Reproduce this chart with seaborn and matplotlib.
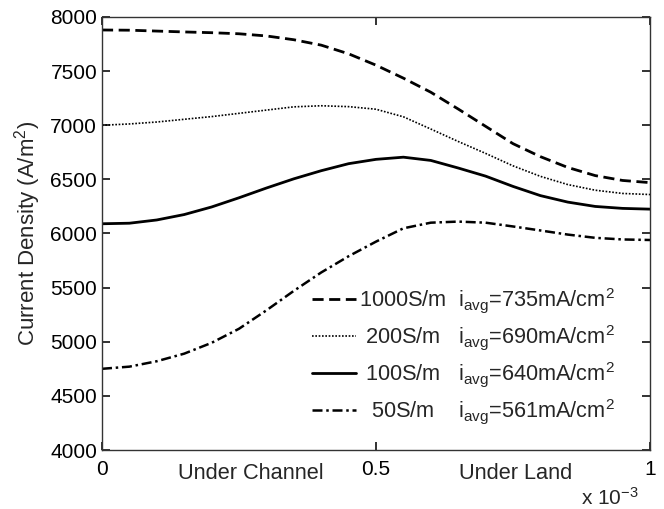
import matplotlib
matplotlib.use("Agg")
import matplotlib.pyplot as plt
import seaborn as sns
import pandas as pd

# ---- data ----
x_mm = [0.00, 0.05, 0.10, 0.15, 0.20, 0.25, 0.30, 0.35, 0.40, 0.45, 0.50,
        0.55, 0.60, 0.65, 0.70, 0.75, 0.80, 0.85, 0.90, 0.95, 1.00]  # x 10^-3

s1000 = [7880, 7878, 7870, 7862, 7855, 7845, 7825, 7790, 7740, 7660, 7555,
         7435, 7305, 7150, 6990, 6830, 6710, 6610, 6535, 6490, 6470]
s200 = [7000, 7012, 7030, 7055, 7080, 7110, 7140, 7170, 7180, 7172, 7148,
        7078, 6965, 6850, 6740, 6625, 6528, 6452, 6400, 6370, 6360]
s100 = [6090, 6095, 6125, 6175, 6245, 6330, 6420, 6505, 6580, 6645, 6685,
        6705, 6675, 6605, 6530, 6435, 6350, 6290, 6250, 6232, 6225]
s50 = [4750, 4770, 4820, 4890, 4990, 5120, 5290, 5470, 5640, 5790, 5925,
       6048, 6100, 6110, 6100, 6065, 6028, 5990, 5960, 5945, 5940]

labels = ["1000S/m  $i_{avg}$=735mA/cm$^2$",
          " 200S/m   $i_{avg}$=690mA/cm$^2$",
          " 100S/m   $i_{avg}$=640mA/cm$^2$",
          "  50S/m    $i_{avg}$=561mA/cm$^2$"]
series = [s1000, s200, s100, s50]

xticks = [0, 0.0005, 0.001]
xticklabels = ["0", "0.5", "1"]
yticks = [4000, 4500, 5000, 5500, 6000, 6500, 7000, 7500, 8000]
region_labels = ["Under Channel", "Under Land"]
region_pos = [0.000272, 0.000755]

# ---- style ----
sns.set_style("ticks")
plt.rcParams["font.family"] = ["Liberation Sans", "DejaVu Sans"]
plt.rcParams["mathtext.fontset"] = "custom"
plt.rcParams["mathtext.rm"] = "Liberation Sans"
plt.rcParams["mathtext.it"] = "Liberation Sans"
plt.rcParams["mathtext.default"] = "regular"

fig = plt.figure(figsize=(6.64, 5.09), dpi=100)
ax = fig.add_axes([102 / 664, 1 - 450 / 509, 548 / 664, 433 / 509])

styles = [dict(ls=(0, (4, 2)), lw=2.0),
          dict(ls=(0, (1, 1)), lw=1.2),
          dict(ls="-", lw=2.0),
          dict(ls=(0, (4, 1.5, 1, 1.5)), lw=1.8)]

for lab, vals, st in zip(labels, series, styles):
    df = pd.DataFrame({"x": [v * 1e-3 for v in x_mm], "y": vals})
    sns.lineplot(data=df, x="x", y="y", ax=ax, color="black",
                 linestyle=st["ls"], linewidth=st["lw"], label=lab)

ax.set_xlim(0, 0.001)
ax.set_ylim(4000, 8000)
ax.set_xticks(xticks, labels=xticklabels)
ax.set_yticks(yticks)
ax.set_xlabel("")
ax.set_ylabel("Current Density (A/m$^2$)", fontsize=16, labelpad=5)

ax.tick_params(axis="both", direction="in", length=6, width=1.3,
               top=True, right=True, bottom=True, left=True,
               labelsize=15, color="#222222", labelcolor="black")
ax.tick_params(axis="x", pad=7)
ax.tick_params(axis="y", pad=3.5)
for sp in ax.spines.values():
    sp.set_visible(True)
    sp.set_color("#333333")
    sp.set_linewidth(1.0)

for t, p in zip(region_labels, region_pos):
    ax.text(p, -0.03, t, transform=ax.get_xaxis_transform(), ha="center",
            va="top", fontsize=15.7)
ax.text(1.0 - 0.02, -0.085, "x 10$^{-3}$", transform=ax.transAxes, ha="right",
        va="top", fontsize=15)

leg = ax.legend(loc="upper left", bbox_to_anchor=(0.368, 0.398), frameon=False,
                fontsize=15.7, handlelength=2.0, handletextpad=0.15,
                labelspacing=0.36, borderaxespad=0)

fig.savefig("out.png", dpi=100)
